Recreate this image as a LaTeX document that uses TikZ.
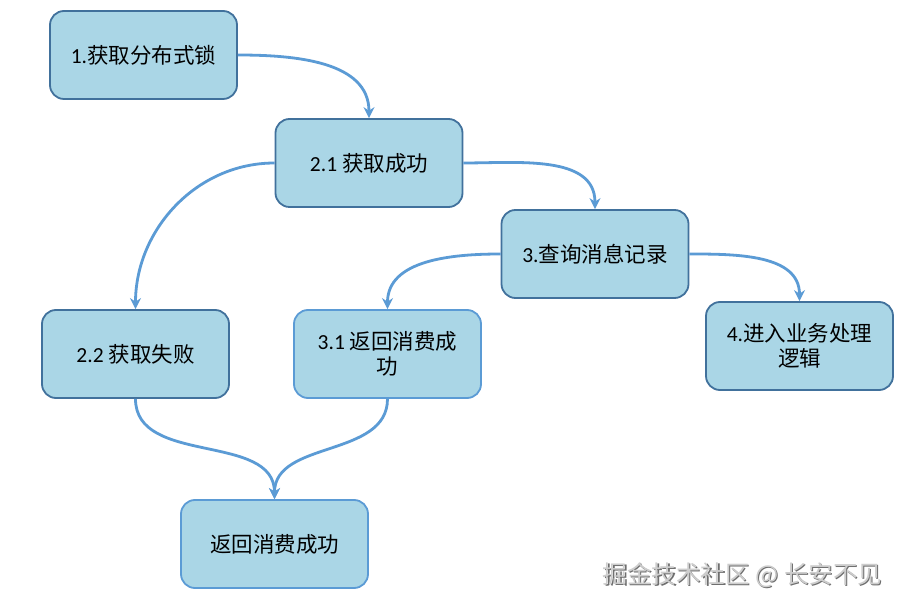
\documentclass[tikz,border=0pt]{standalone}
\usepackage{fontspec}
\setmainfont{Carlito}
\newfontfamily\cjk{Noto Sans CJK SC}
\usepackage{tikz}
\usetikzlibrary{arrows.meta,positioning}

\definecolor{boxfill}{RGB}{170,214,230}
\definecolor{boxdraw}{RGB}{65,113,156}
\definecolor{linkblue}{RGB}{91,155,213}
\definecolor{markgray}{RGB}{205,205,205}
\definecolor{markshade}{RGB}{110,110,110}

\tikzset{
  stepbox/.style={draw=boxdraw, fill=boxfill, line width=1.8pt, rounded corners=14pt,
    minimum width=187pt, minimum height=88pt, align=center,
    font=\fontsize{21.5}{25}\selectfont},
  lightbox/.style={stepbox, draw=linkblue},
  link/.style={draw=linkblue, line width=2.8pt, -{Stealth[length=11pt,width=11pt]}},
}

\begin{document}
\begin{tikzpicture}[x=1pt,y=-1pt]
\useasboundingbox[fill=white] (0,0) rectangle (903,609);

% steps
\node[stepbox] (lock) at (143.5,55) {1.{\cjk 获取分布式锁}};
\node[stepbox] (gotok) at (369,163) {2.1 {\cjk 获取成功}};
\node[stepbox] (query) at (595,254) {3.{\cjk 查询消息记录}};
\node[stepbox] (gotfail) at (135.5,354) {2.2 {\cjk 获取失败}};
\node[lightbox] (retok) at (387.5,354) {3.1 {\cjk 返回消费成}\\{\cjk 功}};
\node[stepbox] (biz) at (799.5,346) {4.{\cjk 进入业务处理}\\{\cjk 逻辑}};
\node[lightbox] (ret) at (274.5,544) {{\cjk 返回消费成功}};

% links
\draw[link] (lock.east) to[out=0,in=90] (gotok.north);
\draw[link] (gotok.west) to[out=180,in=90] (gotfail.north);
\draw[link] (gotok.east) to[out=0,in=90] (query.north);
\draw[link] (query.west) to[out=180,in=90] (retok.north);
\draw[link] (query.east) to[out=0,in=90] (biz.north);
\draw[link] (gotfail.south) to[out=-90,in=90] (ret.north);
\draw[link] (retok.south) to[out=-90,in=90] (ret.north);

% watermark
\node[font=\fontsize{24.5}{25}\selectfont\cjk, text=markshade] (markb) at (743.7,576.7) {掘金技术社区 @ 长安不见};
\node[font=\fontsize{24.5}{25}\selectfont\cjk, text=markgray] (mark) at (742.5,575.5) {掘金技术社区 @ 长安不见};
\end{tikzpicture}
\end{document}
